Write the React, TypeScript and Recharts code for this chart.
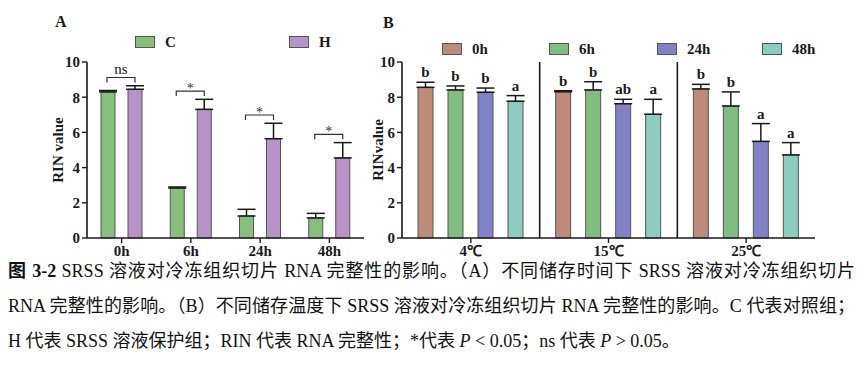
import React from "react";
import { BarChart, Bar, XAxis, YAxis, ErrorBar, LabelList, ReferenceLine } from "recharts";

// Panel A: storage time, control (C) vs SRSS (H)
const timesA = ["0h", "6h", "24h", "48h"];
const controlMean = [8.3, 2.84, 1.25, 1.14];
const controlSd = [0.08, 0.06, 0.38, 0.26];
const srssMean = [8.45, 7.31, 5.64, 4.55];
const srssSd = [0.2, 0.57, 0.88, 0.87];
const sigLabels = ["ns", "*", "*", "*"];

// Panel B: storage temperature x storage time
const temps = ["4℃", "15℃", "25℃"];
const mean0h = [8.56, 8.31, 8.47];
const sd0h = [0.29, 0.06, 0.26];
const letters0h = ["b", "b", "b"];
const mean6h = [8.41, 8.41, 7.5];
const sd6h = [0.23, 0.47, 0.8];
const letters6h = ["b", "b", "b"];
const mean24h = [8.28, 7.63, 5.49];
const sd24h = [0.24, 0.25, 1.01];
const letters24h = ["b", "ab", "a"];
const mean48h = [7.77, 7.03, 4.72];
const sd48h = [0.32, 0.85, 0.7];
const letters48h = ["a", "a", "a"];

const yTicks = [0, 2, 4, 6, 8, 10];

const FONT = '"Liberation Serif", "Times New Roman", serif';
const CAP_FONT = '"Liberation Serif", "Noto Sans CJK SC", serif';
const INK = "#1a1a1a";
const BAR_A = 14;
const GAP_A = 13;
const BAR_B = 15;
const GAP_B = 15;

const seriesA = [
  { key: "C", name: "C", color: "#88bf7f" },
  { key: "H", name: "H", color: "#b893c7" },
];

const seriesB = [
  { key: "0h", mean: mean0h, sd: sd0h, letters: letters0h, color: "#bc8b7c" },
  { key: "6h", mean: mean6h, sd: sd6h, letters: letters6h, color: "#80bd80" },
  { key: "24h", mean: mean24h, sd: sd24h, letters: letters24h, color: "#8182c5" },
  { key: "48h", mean: mean48h, sd: sd48h, letters: letters48h, color: "#8ecbc0" },
];

const rowsA = timesA.map((t, i) => ({
  time: t,
  C: controlMean[i],
  H: srssMean[i],
  cErr: [0, controlSd[i]],
  hErr: [0, srssSd[i]],
  sig: sigLabels[i],
}));

const rowsB = temps.map((t, i) => {
  const row: any = { idx: i, temp: t };
  seriesB.forEach((s) => {
    row["m" + s.key] = s.mean[i];
    row["e" + s.key] = [0, s.sd[i]];
    row["l" + s.key] = s.letters[i];
  });
  return row;
});

const dividers = temps.slice(1).map((_, i) => i + 0.5);

const tickStyle = { fontSize: 15, fontWeight: 700, fill: INK, fontFamily: FONT };
const axisLine = { stroke: INK, strokeWidth: 1.6 };

const Bracket = (props: any) => {
  const x = Number(props.x);
  const y = Number(props.y);
  const w = Number(props.width);
  const h = Number(props.height);
  const i = props.index;
  const unit = h / srssMean[i];
  const base = y + h;
  const level = Math.max(controlMean[i] + controlSd[i], srssMean[i] + srssSd[i]) + 0.47;
  const by = base - level * unit;
  const xH = x + w / 2;
  const xC = x - GAP_A - w / 2 - 1;
  const isNs = props.value === "ns";
  return (
    <g>
      <path d={`M${xC},${by + 5}V${by}H${xH}V${by + 5}`} fill="none" stroke="#333" strokeWidth={1.2} />
      <text
        x={(xC + xH) / 2}
        y={isNs ? by - 3 : by + 2}
        textAnchor="middle"
        fontFamily={FONT}
        fontSize={isNs ? 15 : 14}
        fill={isNs ? INK : "#333"}
      >
        {props.value}
      </text>
    </g>
  );
};

const letterLabel = (s: any) => (props: any) => {
  const x = Number(props.x);
  const y = Number(props.y);
  const w = Number(props.width);
  const h = Number(props.height);
  const i = props.index;
  const unit = h / s.mean[i];
  const errTop = y - s.sd[i] * unit;
  return (
    <text
      x={x + w / 2}
      y={errTop - 10}
      textAnchor="middle"
      dominantBaseline="central"
      fontFamily={FONT}
      fontWeight={700}
      fontSize={15}
      fill={INK}
    >
      {props.value}
    </text>
  );
};

const LegendRow = ({ items, left, top, itemWidth }: any) => (
  <div style={{ position: "absolute", left, top, display: "flex" }}>
    {items.map((it: any, i: number) => (
      <div key={it.name} style={{ width: itemWidth[i], display: "flex", alignItems: "center" }}>
        <div
          style={{
            width: 18,
            height: 10,
            background: it.color,
            border: "1px solid #555",
            marginRight: 10,
          }}
        />
        <span style={{ fontFamily: FONT, fontWeight: 700, fontSize: 15, color: INK, lineHeight: "16px" }}>
          {it.name}
        </span>
      </div>
    ))}
  </div>
);

const PanelTag = ({ text, left, top }: any) => (
  <div
    style={{
      position: "absolute",
      left,
      top,
      fontFamily: FONT,
      fontWeight: 700,
      fontSize: 16,
      lineHeight: "16px",
      color: INK,
    }}
  >
    {text}
  </div>
);

const ChartA = () => (
  <BarChart
    width={380}
    height={260}
    data={rowsA}
    margin={{ top: 62, right: 16, bottom: 2, left: 57 }}
    barSize={BAR_A}
    barGap={GAP_A}
  >
    <XAxis
      dataKey="time"
      tick={tickStyle}
      tickSize={5}
      tickLine={{ stroke: INK, strokeWidth: 1.4 }}
      axisLine={axisLine}
      height={20}
      interval={0}
    />
    <XAxis xAxisId="top" dataKey="time" orientation="top" height={0} tick={false} tickLine={false} axisLine={axisLine} />
    <YAxis
      domain={[0, 10]}
      ticks={yTicks}
      width={30}
      tick={tickStyle}
      tickSize={5}
      tickMargin={2}
      tickLine={{ stroke: INK, strokeWidth: 1.4 }}
      axisLine={axisLine}
      label={{
        value: "RIN value",
        angle: -90,
        position: "insideLeft",
        offset: 1,
        style: { textAnchor: "middle", fontFamily: FONT, fontWeight: 700, fontSize: 15, fill: INK },
      }}
    />
    <YAxis yAxisId="r" orientation="right" domain={[0, 10]} width={0} tick={false} tickLine={false} axisLine={axisLine} />
    <Bar dataKey="C" fill={seriesA[0].color} stroke="#555" strokeWidth={1} isAnimationActive={false}>
      <ErrorBar dataKey="cErr" direction="y" width={9} stroke={INK} strokeWidth={1.5} isAnimationActive={false} />
    </Bar>
    <Bar dataKey="H" fill={seriesA[1].color} stroke="#555" strokeWidth={1} isAnimationActive={false}>
      <ErrorBar dataKey="hErr" direction="y" width={9} stroke={INK} strokeWidth={1.5} isAnimationActive={false} />
      <LabelList dataKey="sig" content={Bracket} />
    </Bar>
  </BarChart>
);

const ChartB = () => (
  <BarChart
    width={470}
    height={260}
    data={rowsB}
    margin={{ top: 62, right: 25, bottom: 2, left: 2 }}
    barSize={BAR_B}
    barGap={GAP_B}
  >
    <XAxis
      dataKey="idx"
      type="number"
      domain={[-0.5, temps.length - 0.5]}
      ticks={temps.map((_, i) => i)}
      tickFormatter={(v: number) => temps[v]}
      tick={tickStyle}
      tickSize={5}
      tickLine={{ stroke: INK, strokeWidth: 1.4 }}
      axisLine={axisLine}
      height={20}
      interval={0}
    />
    <XAxis
      xAxisId="top"
      dataKey="idx"
      type="number"
      domain={[-0.5, temps.length - 0.5]}
      orientation="top"
      height={0}
      tick={false}
      tickLine={false}
      axisLine={axisLine}
    />
    <YAxis
      domain={[0, 10]}
      ticks={yTicks}
      width={30}
      tick={tickStyle}
      tickSize={5}
      tickMargin={2}
      tickLine={{ stroke: INK, strokeWidth: 1.4 }}
      axisLine={axisLine}
      label={{
        value: "RINvalue",
        angle: -90,
        position: "insideLeft",
        offset: 6,
        style: { textAnchor: "middle", fontFamily: FONT, fontWeight: 700, fontSize: 15, fill: INK },
      }}
    />
    <YAxis yAxisId="r" orientation="right" domain={[0, 10]} width={0} tick={false} tickLine={false} axisLine={axisLine} />
    {dividers.map((d) => (
      <ReferenceLine key={d} x={d} stroke={INK} strokeWidth={1.6} />
    ))}
    {seriesB.map((s) => (
      <Bar key={s.key} dataKey={"m" + s.key} fill={s.color} stroke="#555" strokeWidth={1} isAnimationActive={false}>
        <ErrorBar dataKey={"e" + s.key} direction="y" width={9} stroke={INK} strokeWidth={1.5} isAnimationActive={false} />
        <LabelList dataKey={"l" + s.key} content={letterLabel(s)} />
      </Bar>
    ))}
  </BarChart>
);

export default function App() {
  return (
    <div
      style={{
        position: "absolute",
        left: 0,
        top: 0,
        width: 866,
        height: 384,
        background: "#fff",
        overflow: "hidden",
      }}
    >
      <PanelTag text="A" left={55} top={14} />
      <PanelTag text="B" left={383} top={15} />
      <LegendRow items={seriesA} left={135} top={34} itemWidth={[154, 60]} />
      <LegendRow
        items={seriesB.map((s) => ({ name: s.key, color: s.color }))}
        left={442}
        top={41}
        itemWidth={[107, 108, 105, 60]}
      />
      <div style={{ position: "absolute", left: 0, top: 0 }}>
        <ChartA />
      </div>
      <div style={{ position: "absolute", left: 370, top: 0 }}>
        <ChartB />
      </div>
      <div
        style={{
          position: "absolute",
          left: 8,
          top: 254,
          width: 847,
          fontFamily: CAP_FONT,
          fontSize: 18,
          lineHeight: "35px",
          color: "#111",
        }}
      >
        <div style={{ textAlign: "justify", textAlignLast: "justify", whiteSpace: "nowrap" }}>
          <b>图 3-2</b> SRSS 溶液对冷冻组织切片 RNA 完整性的影响。（A）不同储存时间下 SRSS 溶液对冷冻组织切片
        </div>
        <div style={{ textAlign: "justify", textAlignLast: "justify", whiteSpace: "nowrap" }}>
          RNA 完整性的影响。（B）不同储存温度下 SRSS 溶液对冷冻组织切片 RNA 完整性的影响。C 代表对照组；
        </div>
        <div style={{ whiteSpace: "nowrap" }}>
          H 代表 SRSS 溶液保护组；RIN 代表 RNA 完整性；*代表 <i>P</i> &lt; 0.05；ns 代表 <i>P</i> &gt; 0.05。
        </div>
      </div>
    </div>
  );
}
